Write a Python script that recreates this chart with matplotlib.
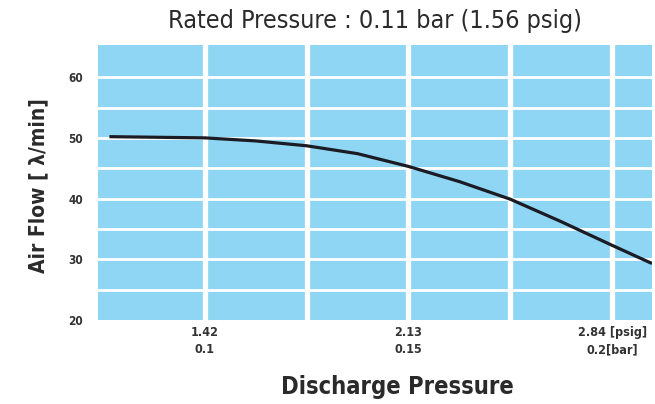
import numpy as np
import matplotlib.pyplot as plt

# Discharge pressure [bar] and air flow [l/min]
pressure_bar = [0.0766, 0.1, 0.1125, 0.125, 0.1375, 0.15, 0.1625, 0.175, 0.1875, 0.2, 0.2098]
air_flow = [50.2, 50.0, 49.5, 48.7, 47.4, 45.3, 42.8, 39.9, 36.2, 32.3, 29.3]

x_ticks = [0.1, 0.15, 0.2]
x_tick_labels = ['1.42\n0.1', '2.13\n0.15', '2.84 [psig]\n0.2[bar]']
x_grid = [0.1, 0.125, 0.15, 0.175, 0.2]
y_ticks = [20, 30, 40, 50, 60]
y_grid = [25, 30, 35, 40, 45, 50, 55, 60]

plt.rcParams['font.family'] = ['DejaVu Sans']
plt.rcParams['font.stretch'] = 'condensed'

fig = plt.figure(figsize=(6.55, 4.04), dpi=100)
ax = fig.add_axes([0.1496, 0.208, 0.8458, 0.6806])
ax.set_facecolor('#8fd6f4')

for xv in x_grid:
    ax.axvline(xv, color='white', lw=3.8, zorder=1)
for yv in y_grid:
    ax.axhline(yv, color='white', lw=2.0, zorder=1)

ax.plot(pressure_bar, air_flow, color='#1b1b24', lw=2.3, zorder=3,
        solid_capstyle='butt', solid_joinstyle='round')

ax.set_xlim(0.0738, 0.2098)
ax.set_ylim(20, 65.3)
ax.set_xticks(x_ticks)
ax.set_xticklabels(x_tick_labels, fontsize=9, fontweight='bold',
                   color='#333333', linespacing=1.45)
ax.set_yticks(y_ticks)
ax.set_yticklabels([str(v) for v in y_ticks], fontsize=8.5,
                   fontweight='bold', color='#333333')
ax.tick_params(length=0, pad=11)
ax.tick_params(axis='x', pad=4)
for s in ax.spines.values():
    s.set_visible(False)

ax.set_title('Rated Pressure : 0.11 bar (1.56 psig)', fontsize=18,
             color='#2a2a2a', pad=12)
ax.set_xlabel('Discharge Pressure', fontsize=17, fontweight='bold',
              color='#2a2a2a')
ax.xaxis.set_label_coords(0.54, -0.2)
ax.set_ylabel('Air Flow [ λ/min]', fontsize=15, fontweight='bold',
              color='#2a2a2a')
ax.yaxis.set_label_coords(-0.09, 0.49)

fig.savefig('out.png', dpi=100)
